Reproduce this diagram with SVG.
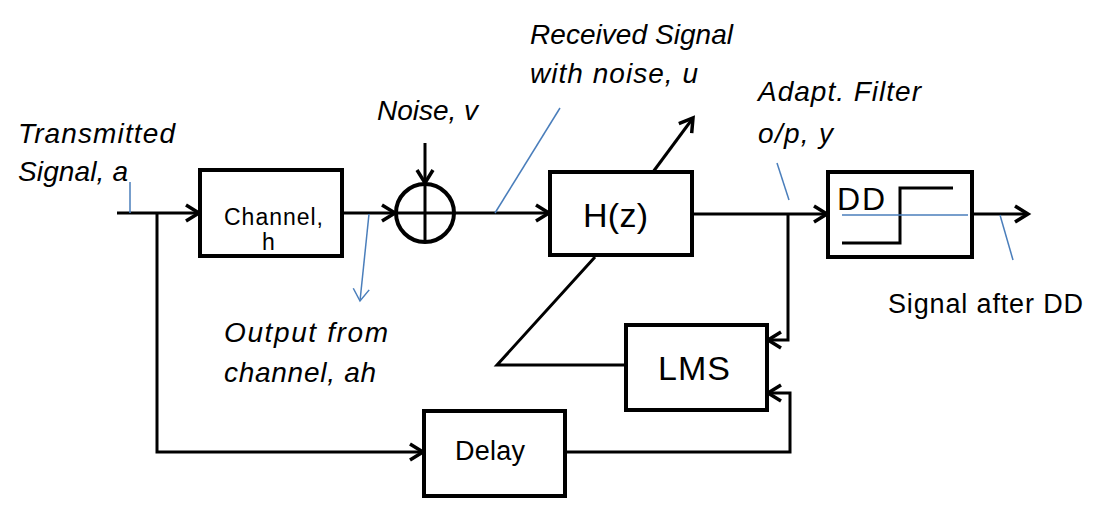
<svg xmlns="http://www.w3.org/2000/svg" width="1110" height="509" viewBox="0 0 1110 509">
<defs>
<marker id="ah" markerUnits="userSpaceOnUse" markerWidth="20" markerHeight="22" refX="15" refY="10" orient="auto" viewBox="0 0 20 20">
<path d="M2,2 L15,10 L2,18" fill="none" stroke="#000" stroke-width="3.5"/>
</marker>
<marker id="bh" markerUnits="userSpaceOnUse" markerWidth="20" markerHeight="20" refX="14" refY="10" orient="auto" viewBox="0 0 20 20">
<path d="M2,2 L14,10 L2,18" fill="none" stroke="#4a7ebb" stroke-width="1.5"/>
</marker>
<style>
.box{fill:#fff;stroke:#000;stroke-width:4}
.ln{fill:none;stroke:#000;stroke-width:3}
.bl{fill:none;stroke:#4a7ebb;stroke-width:1.5}
.lbl{font-family:"Liberation Sans",Arial,sans-serif;font-style:italic;font-size:28px;fill:#000}
.txt{font-family:"Liberation Sans",Arial,sans-serif;fill:#000}
</style>
</defs>
<rect width="1110" height="509" fill="#fff"/>
<g id="connectors">
<path class="ln" d="M117,213 L199,213" marker-end="url(#ah)"/>
<path class="ln" d="M342,213 L395,213" marker-end="url(#ah)"/>
<path class="ln" d="M425,143 L425,183" marker-end="url(#ah)"/>
<path class="ln" d="M455,213 L549,213" marker-end="url(#ah)"/>
<path class="ln" d="M653,172 L693,118" marker-end="url(#ah)"/>
<path class="ln" d="M692,214 L827,214" marker-end="url(#ah)"/>
<path class="ln" d="M972,214 L1028,214" marker-end="url(#ah)"/>
<path class="ln" d="M157,213 L157,452 L423,452" marker-end="url(#ah)"/>
<path class="ln" d="M788,214 L788,340 L768,340" marker-end="url(#ah)"/>
<path class="ln" d="M565,452 L790,452 L790,393 L768,393" marker-end="url(#ah)"/>
<path class="ln" d="M595,257 L497,365 L626,365"/>
<path class="bl" d="M130,182 L130,213"/>
<path class="bl" d="M369,214 L360,301" marker-end="url(#bh)"/>
<path class="bl" d="M495,213 L560,108"/>
<path class="bl" d="M777,163 L789,200"/>
<path class="bl" d="M1000,215 L1013,260"/>
</g>
<g id="channel">
<rect class="box" x="200" y="170" width="142" height="86"/>
<text class="txt" x="224" y="225" font-size="23" textLength="99">Channel,</text>
<text class="txt" x="262" y="250" font-size="23">h</text>
</g>
<g id="sum">
<circle cx="425" cy="213" r="29" fill="#fff" stroke="#000" stroke-width="4"/>
<path class="ln" d="M396,213 L454,213 M425,184 L425,242"/>
</g>
<g id="hz">
<rect class="box" x="550" y="172" width="142" height="83"/>
<text class="txt" x="583" y="227" font-size="34" textLength="65">H(z)</text>
</g>
<g id="dd">
<rect class="box" x="828" y="172" width="144" height="85"/>
<text class="txt" x="837" y="210" font-size="32" textLength="48">DD</text>
<path class="ln" d="M842,243 L900,243 L900,188 L953,188"/>
<path class="bl" d="M842,215 L968,215"/>
</g>
<g id="lms">
<rect class="box" x="626" y="325" width="141" height="85"/>
<text class="txt" x="658" y="380" font-size="34" textLength="72">LMS</text>
</g>
<g id="delay">
<rect class="box" x="424" y="411" width="141" height="85"/>
<text class="txt" x="455" y="460" font-size="27" textLength="70">Delay</text>
</g>
<g id="labels">
<text class="lbl" x="18" y="143" textLength="157">Transmitted</text>
<text class="lbl" x="18" y="181" textLength="110">Signal, a</text>
<text class="lbl" x="377" y="120" textLength="101">Noise, v</text>
<text class="lbl" x="530" y="44" textLength="203">Received Signal</text>
<text class="lbl" x="530" y="83" textLength="168">with noise, u</text>
<text class="lbl" x="758" y="101" textLength="163">Adapt. Filter</text>
<text class="lbl" x="758" y="143" textLength="75">o/p, y</text>
<text class="lbl" x="224" y="342" textLength="164">Output from</text>
<text class="lbl" x="224" y="382" textLength="152">channel, ah</text>
<text class="txt" x="888" y="313" font-size="27" textLength="195">Signal after DD</text>
</g>
</svg>
